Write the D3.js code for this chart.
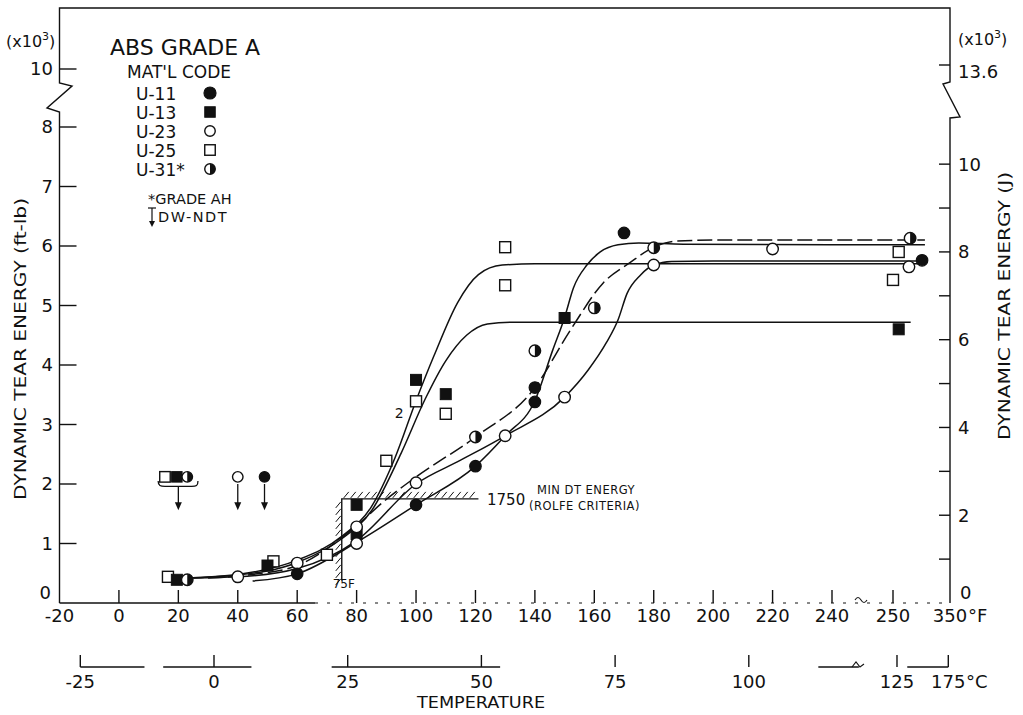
<!DOCTYPE html>
<html>
<head>
<meta charset="utf-8">
<script src="https://cdn.jsdelivr.net/npm/d3@7"></script>
<style>
  body { margin: 0; background: #fff; }
  svg text { font-family: "DejaVu Sans", "Liberation Sans", sans-serif; fill: #111; }
</style>
</head>
<body>
<svg id="chart" width="1023" height="715"></svg>
<script>
// Dynamic tear energy (thousands of ft-lb) versus test temperature (°F), ABS Grade A plate.

// Measured points, [temperature °F, energy 1000 ft-lb]
const u11Points = [[60, 0.49], [100, 1.65], [120, 2.30], [140, 3.38], [140, 3.62], [170, 6.22], [301, 5.76]];
const u13Points = [[19.5, 0.39], [50, 0.63], [80, 1.16], [80, 1.65], [100, 3.75], [110, 3.51], [150, 4.79], [260, 4.60]];
const u23Points = [[40, 0.44], [60, 0.67], [80, 1.00], [80, 1.28], [100, 2.02], [130, 2.81], [150, 3.46], [180, 5.68], [220, 5.95], [278, 5.65]];
const u25Points = [[16.5, 0.44], [52, 0.70], [70, 0.81], [90, 2.39], [100, 3.39], [110, 3.18], [130, 5.98], [130, 5.34], [250, 5.43], [260, 5.90]];
const u31Points = [[23, 0.39], [120, 2.79], [140, 4.24], [160, 4.96], [180, 5.97], [280, 6.13]];

// Transition curves drawn through each material's results
const u11Curve = [[45, 0.37], [60, 0.49], [80, 1.02], [100, 1.65], [120, 2.3], [130, 2.81], [140, 3.4], [146, 4.25], [150, 4.8], [153, 5.3], [157.5, 5.68], [162, 5.9], [168, 6.02], [175, 6.05], [190, 6.03], [306, 6.02]];
const u13Curve = [[22, 0.42], [40, 0.47], [60, 0.68], [75, 1.08], [85, 1.55], [95, 2.52], [103, 3.42], [110, 4.07], [117, 4.5], [124, 4.69], [132, 4.72], [281, 4.72]];
const u23Curve = [[25, 0.42], [40, 0.44], [60, 0.58], [80, 1.05], [100, 2.0], [115, 2.4], [130, 2.81], [150, 3.46], [158, 3.92], [164, 4.37], [168, 4.76], [171, 5.2], [175.5, 5.51], [180, 5.68], [186, 5.74], [200, 5.75], [305, 5.75]];
const u25Curve = [[22, 0.42], [40, 0.48], [60, 0.72], [75, 1.12], [85, 1.62], [93, 2.45], [100, 3.4], [106, 4.15], [114, 5.05], [121, 5.52], [129, 5.68], [140, 5.7], [306, 5.7]];
const u31Curve = [[30, 0.42], [45, 0.48], [60, 0.63], [80, 1.3], [89, 1.7], [100, 2.12], [120, 2.79], [140, 3.62], [152, 4.59], [163, 5.38], [172, 5.72], [180, 5.98], [187, 6.08], [200, 6.1], [306, 6.1]];

// DW-NDT temperatures (marker position) and their arrows
const dwNdtMarks = [["U-25", 15.5, 2.12], ["U-13", 19.5, 2.12], ["U-31", 23, 2.12], ["U-23", 40, 2.12], ["U-11", 49, 2.12]];
const dwNdtArrows = [20, 40, 49];

// Axis ticks
const fTicks = [0, 20, 40, 60, 80, 100, 120, 140, 160, 180, 200, 220, 240, 250];
const fTickLabels = ["-20", "0", "20", "40", "60", "80", "100", "120", "140", "160", "180", "200", "220", "240", "250", "350"];
const cTicks = [-25, 0, 25, 50, 75, 100, 125, 175];
const ftlbTicks = [1, 2, 3, 4, 5, 6, 7, 8, 10];
const ftlbTickLabels = ["0", "1", "2", "3", "4", "5", "6", "7", "8", "10"];
const jouleTicks = [1, 2, 3, 4, 5, 6, 7, 8, 9, 10];
const jouleTickLabels = ["2", "4", "6", "8", "10"];
const cAxisSegments = [[-25, -13], [-9.5, 7], [22, 53.5], [113, 118], [135, 175]];

// Materials legend
const legendCodes = ["U-11", "U-13", "U-23", "U-25", "U-31*"];
const legendShapes = ["disc", "block", "ring", "box", "half"];

// Criterion
const minDtEnergy = 1.75;
const minDtTemp = 75;

const FT_LB_TO_J = 1.3558;

const svg = d3.select("#chart");

// Broken temperature axis: linear to 240 °F, compressed from 250 to 350 °F
const x = d3.scaleLinear().domain([-20, 240, 250, 350]).range([59.5, 832, 893, 950]);
// Broken energy axis: linear to 8, then jump to 10
const y = d3.scaleLinear().domain([0, 8, 10]).range([603, 127, 69]);
const yJ = j => y(j / FT_LB_TO_J);
const xC = c => x(c * 9 / 5 + 32);

const X0 = x(-20), X1 = x(350), Y0 = y(0), YTOP = 8;
const ink = "#111";

// ---------- frame and axes ----------
const axes = svg.append("g").attr("fill", "none").attr("stroke", ink).attr("stroke-width", 1.4);
axes.append("path").attr("d", `M${X0},${Y0} V112 L47,108 L72,86 L${X0},83 V${YTOP} H${X1} V82 L943,84 L960,117 L${X1},118 V${Y0}`);
// bottom °F axis: solid near the origin, faint further along
axes.append("path").attr("d", `M${X0},${Y0} H${x(66)}`);
axes.append("path").attr("d", `M${x(66)},${Y0} H${X1}`).attr("stroke-dasharray", "3,9").attr("stroke-width", 1);
// axis break symbol on the °F axis
axes.append("path").attr("d", `M855,600 q3,-5 6,0 q3,5 6,0`).attr("stroke-width", 1.1);

// left ticks (inward)
axes.selectAll(".lt").data(ftlbTicks).join("line")
  .attr("x1", X0).attr("x2", X0 + 17).attr("y1", d => y(d)).attr("y2", d => y(d));
// right ticks (inward), Joules
axes.selectAll(".rt").data(jouleTicks).join("line")
  .attr("x1", X1 - 11).attr("x2", X1).attr("y1", d => yJ(d)).attr("y2", d => yJ(d));
axes.append("line").attr("x1", X1 - 11).attr("x2", X1).attr("y1", y(10) - 4).attr("y2", y(10) - 4);
// bottom ticks (inward)
axes.selectAll(".bt").data(fTicks).join("line")
  .attr("x1", d => x(d)).attr("x2", d => x(d)).attr("y1", Y0).attr("y2", Y0 - 13);

// °C axis
const YC = 667;
axes.selectAll(".cs").data(cAxisSegments).join("line")
  .attr("x1", d => xC(d[0])).attr("x2", d => xC(d[1])).attr("y1", YC).attr("y2", YC);
axes.selectAll(".ct").data(cTicks).join("line")
  .attr("x1", d => xC(d)).attr("x2", d => xC(d)).attr("y1", YC).attr("y2", YC - 12);
axes.append("path").attr("d", `M852,${YC} l4,-5 l4,5 l4,-3`).attr("stroke-width", 1.1);

// ---------- tick labels ----------
const lbl = svg.append("g").attr("font-size", 18);
lbl.selectAll(".yl").data([0].concat(ftlbTicks)).join("text")
  .attr("x", d => d === 0 ? 51 : 53).attr("y", d => d === 0 ? y(d) - 10 : y(d)).attr("dy", "0.36em").attr("text-anchor", "end")
  .text((d, i) => ftlbTickLabels[i]);
lbl.selectAll(".jl").data([2, 4, 6, 8, 10]).join("text")
  .attr("x", 958).attr("y", d => yJ(d)).attr("dy", "0.36em")
  .text((d, i) => jouleTickLabels[i]);
lbl.append("text").attr("x", 960).attr("y", yJ(0) - 10).attr("dy", "0.36em").text("0");
lbl.append("text").attr("x", 958).attr("y", y(10) + 3).attr("dy", "0.36em").text("13.6");
lbl.selectAll(".fl").data([-20].concat(fTicks, [350])).join("text")
  .attr("x", d => x(d)).attr("y", 622).attr("text-anchor", "middle")
  .text((d, i) => fTickLabels[i]);
lbl.append("text").attr("x", 968).attr("y", 622).text("°F");
lbl.selectAll(".cl").data(cTicks).join("text")
  .attr("x", d => xC(d)).attr("y", 688).attr("text-anchor", "middle").text(d => d);
lbl.append("text").attr("x", 966).attr("y", 688).text("°C");

// multiplier notes
function times1000(xPos, yPos) {
  const t = svg.append("text").attr("x", xPos).attr("y", yPos).attr("font-size", 16);
  t.append("tspan").text("(x10");
  t.append("tspan").attr("font-size", 11).attr("dy", -7).text("3");
  t.append("tspan").attr("dy", 7).text(")");
}
times1000(6, 47);
times1000(958, 45);

// axis titles
svg.append("text").attr("transform", `translate(26,349) rotate(-90)`)
  .attr("text-anchor", "middle").attr("font-size", 16)
  .attr("textLength", 302).attr("lengthAdjust", "spacingAndGlyphs")
  .text("DYNAMIC TEAR ENERGY (ft-lb)");
svg.append("text").attr("transform", `translate(1010,306) rotate(-90)`)
  .attr("text-anchor", "middle").attr("font-size", 16)
  .attr("textLength", 268).attr("lengthAdjust", "spacingAndGlyphs")
  .text("DYNAMIC TEAR ENERGY (J)");
svg.append("text").attr("x", 481).attr("y", 708).attr("text-anchor", "middle")
  .attr("font-size", 16).attr("textLength", 128).attr("lengthAdjust", "spacingAndGlyphs")
  .text("TEMPERATURE");

// ---------- minimum DT energy criterion ----------
const crit = svg.append("g").attr("stroke", ink).attr("fill", "none");
const cx0 = x(minDtTemp), cy0 = y(minDtEnergy), cxEnd = x(121), cyEnd = y(0.38);
crit.append("path").attr("stroke-width", 1.4).attr("d", `M${cxEnd},${cy0} H${cx0} V${cyEnd}`);
const hatchTop = d3.range(cx0 + 2, cxEnd - 2, 7);
crit.selectAll(".ht").data(hatchTop).join("line").attr("stroke-width", 1)
  .attr("x1", d => d).attr("y1", cy0 - 1).attr("x2", d => d + 5).attr("y2", cy0 - 7);
const hatchLeft = d3.range(cy0 + 3, cyEnd, 7);
crit.selectAll(".hl").data(hatchLeft).join("line").attr("stroke-width", 1)
  .attr("x1", cx0 - 6).attr("y1", d => d + 6).attr("x2", cx0 - 1).attr("y2", d => d);
svg.append("text").attr("x", 487).attr("y", cy0 + 6).attr("font-size", 15).text("1750");
svg.append("text").attr("x", 537).attr("y", cy0 - 5).attr("font-size", 11.5).attr("letter-spacing", 0.5).text("MIN DT ENERGY");
svg.append("text").attr("x", 529).attr("y", cy0 + 11).attr("font-size", 11.5).attr("letter-spacing", 0.5).text("(ROLFE CRITERIA)");
svg.append("text").attr("x", cx0 + 2).attr("y", 588).attr("text-anchor", "middle").attr("font-size", 12).text("75F");

// ---------- transition curves ----------
const line = d3.line().x(d => x(d[0])).y(d => y(d[1])).curve(d3.curveMonotoneX);
const curves = svg.append("g").attr("fill", "none").attr("stroke", ink).attr("stroke-width", 1.5);
[u11Curve, u13Curve, u23Curve, u25Curve].forEach(c => curves.append("path").attr("d", line(c)));
curves.append("path").attr("d", line(u31Curve)).attr("stroke-dasharray", "15,5");

// ---------- markers ----------
function marker(g, shape, cx, cy, s) {
  const r = s / 2;
  if (shape === "disc") {
    g.append("circle").attr("cx", cx).attr("cy", cy).attr("r", r).attr("fill", ink).attr("stroke", ink).attr("stroke-width", 1.2);
  } else if (shape === "ring") {
    g.append("circle").attr("cx", cx).attr("cy", cy).attr("r", r).attr("fill", "#fff").attr("stroke", ink).attr("stroke-width", 1.4);
  } else if (shape === "block") {
    g.append("rect").attr("x", cx - r).attr("y", cy - r).attr("width", s).attr("height", s).attr("fill", ink).attr("stroke", ink).attr("stroke-width", 1);
  } else if (shape === "box") {
    g.append("rect").attr("x", cx - r).attr("y", cy - r).attr("width", s).attr("height", s).attr("fill", "#fff").attr("stroke", ink).attr("stroke-width", 1.4);
  } else if (shape === "half") {
    g.append("circle").attr("cx", cx).attr("cy", cy).attr("r", r).attr("fill", "#fff").attr("stroke", ink).attr("stroke-width", 1.4);
    g.append("path").attr("d", `M${cx},${cy - r} A${r},${r} 0 0 1 ${cx},${cy + r} Z`).attr("fill", ink);
  }
}

const pts = svg.append("g");
const seriesList = [
  [u25Points, "box"], [u13Points, "block"], [u23Points, "ring"], [u31Points, "half"], [u11Points, "disc"]
];
seriesList.forEach(([data, shape]) => {
  data.forEach(d => marker(pts, shape, x(d[0]), y(d[1]), shape === "box" || shape === "block" ? 11 : 11.5));
});

// label for coincident results
svg.append("text").attr("x", x(94.3)).attr("y", y(3.2)).attr("dy", "0.36em").attr("text-anchor", "middle").attr("font-size", 14).text("2");

// ---------- DW-NDT ----------
const shapeOf = { "U-11": "disc", "U-13": "block", "U-23": "ring", "U-25": "box", "U-31": "half" };
const ndt = svg.append("g");
dwNdtMarks.forEach(d => marker(ndt, shapeOf[d[0]], x(d[1]), y(d[2]), 10.5));
ndt.append("path").attr("fill", "none").attr("stroke", ink).attr("stroke-width", 1.3)
  .attr("d", `M${x(13.2)},${y(2.05)} C${x(13.2)},${y(1.97)} ${x(14)},${y(1.96)} ${x(15.5)},${y(1.96)} H${x(24.5)} C${x(26)},${y(1.96)} ${x(26.6)},${y(1.97)} ${x(26.6)},${y(2.05)}`);
dwNdtArrows.forEach(t => {
  const ax = x(t), ya = y(t === 20 ? 1.96 : 2.0), yb = y(1.56);
  ndt.append("line").attr("x1", ax).attr("x2", ax).attr("y1", ya).attr("y2", yb - 6).attr("stroke", ink).attr("stroke-width", 1.3);
  ndt.append("path").attr("d", `M${ax - 3.5},${yb - 8} L${ax + 3.5},${yb - 8} L${ax},${yb} Z`).attr("fill", ink);
});

// ---------- legend ----------
const leg = svg.append("g");
leg.append("text").attr("x", 110).attr("y", 55).attr("font-size", 22).text("ABS GRADE A");
leg.append("text").attr("x", 127).attr("y", 78).attr("font-size", 17).text("MAT'L CODE");
legendCodes.forEach((code, i) => {
  const yy = 100 + i * 19;
  leg.append("text").attr("x", 136).attr("y", yy).attr("font-size", 17).text(code);
  marker(leg, legendShapes[i], 210, yy - 7, legendShapes[i] === "disc" ? 12 : 10.5);
});
leg.append("text").attr("x", 148).attr("y", 204).attr("font-size", 14.5).text("*GRADE AH");
leg.append("line").attr("x1", 152).attr("x2", 152).attr("y1", 208).attr("y2", 222).attr("stroke", ink).attr("stroke-width", 1.2);
leg.append("line").attr("x1", 148).attr("x2", 156).attr("y1", 208).attr("y2", 208).attr("stroke", ink).attr("stroke-width", 1.2);
leg.append("path").attr("d", "M149,221 L155,221 L152,227 Z").attr("fill", ink);
leg.append("text").attr("x", 158).attr("y", 222).attr("font-size", 14.5).attr("letter-spacing", 1.5).text("DW-NDT");
</script>
</body>
</html>
